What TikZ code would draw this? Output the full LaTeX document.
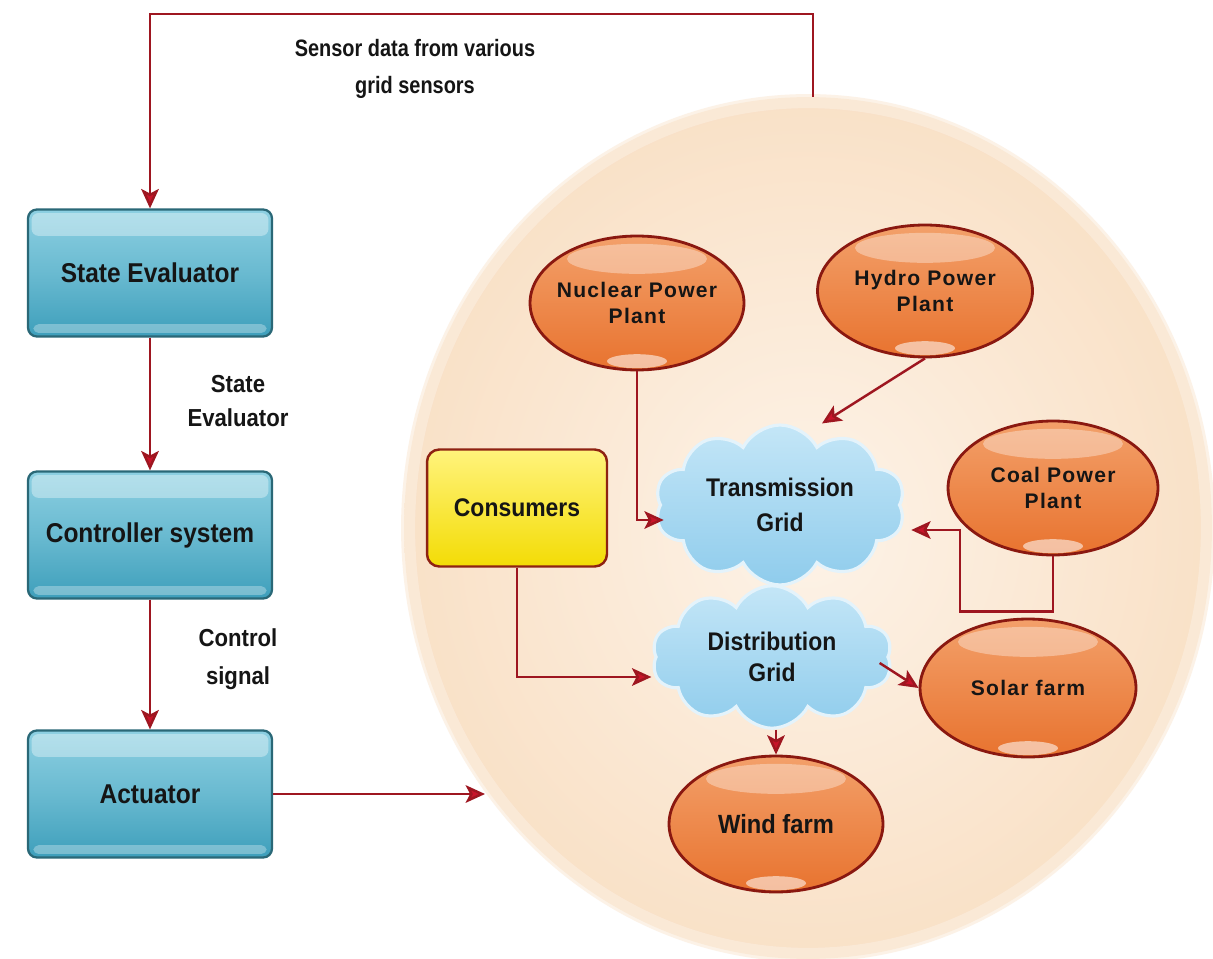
\documentclass[tikz,border=0pt]{standalone}
\usepackage{fontspec}
\setmainfont{Liberation Sans}
\newfontfamily\cond[FakeStretch=0.9]{Liberation Sans}
\newfontfamily\condb[FakeStretch=0.84]{Liberation Sans}
\newfontfamily\spaced[LetterSpace=6]{Liberation Sans}
\usetikzlibrary{shapes.geometric,shapes.symbols,arrows.meta,calc}
\definecolor{conncol}{HTML}{9E1620}
\definecolor{tipcol}{HTML}{C8142A}
\definecolor{blueTop}{HTML}{8DD0E2}
\definecolor{blueBot}{HTML}{3E9FBB}
\definecolor{blueEdge}{HTML}{2A6877}
\definecolor{orTop}{HTML}{F3A06A}
\definecolor{orBot}{HTML}{E8732F}
\definecolor{orEdge}{HTML}{8A1810}
\definecolor{cloudTop}{HTML}{C4E6F7}
\definecolor{cloudBot}{HTML}{8FCCEC}
\definecolor{cloudEdge}{HTML}{E4F3FB}
\definecolor{yelTop}{HTML}{FFF37C}
\definecolor{yelBot}{HTML}{F3DC05}
\definecolor{yelEdge}{HTML}{8E2212}
\definecolor{peachIn}{HTML}{FDF3E8}
\definecolor{peachOut}{HTML}{F9E1C7}
\definecolor{txt}{HTML}{151515}
\tikzset{
  conn/.style={draw=conncol, line width=1.4pt, -{Stealth[length=11pt,width=10pt,inset=2.5pt,fill=tipcol]}},
  bluebox/.style={rectangle, rounded corners=5pt, draw=blueEdge, line width=1.3pt,
    top color=blueTop, bottom color=blueBot, middle color=blueTop!55!blueBot,
    minimum width=4.88cm, minimum height=2.54cm, inner sep=0pt, text=txt,
    font=\cond\bfseries\fontsize{15.5}{18}\selectfont,
    path picture={
      \fill[white,opacity=0.35,rounded corners=4pt]
        ([xshift=2pt,yshift=-2pt]path picture bounding box.north west) rectangle
        ([xshift=-2pt,yshift=-15pt]path picture bounding box.north east);
      \fill[white,opacity=0.3,rounded corners=3pt]
        ([xshift=3pt,yshift=2pt]path picture bounding box.south west) rectangle
        ([xshift=-3pt,yshift=7pt]path picture bounding box.south east);
    }},
  orell/.style={ellipse, draw=orEdge, line width=1.6pt, top color=orTop, bottom color=orBot,
    inner xsep=-30pt, inner ysep=-10pt, text=txt, align=center,
    font=\spaced\bfseries\fontsize{12}{14.5}\selectfont,
    path picture={
      \fill[white,opacity=0.35] ([yshift=-13pt]path picture bounding box.north)
        ellipse [x radius=1.4cm, y radius=0.3cm];
      \fill[white,opacity=0.55] ([yshift=5pt]path picture bounding box.south)
        ellipse [x radius=0.6cm, y radius=0.14cm];
    }},
  cloudnode/.style={cloud, cloud puffs=10, cloud puff arc=125, aspect=1.7,
    draw=cloudEdge, line width=1.8pt, top color=cloudTop, bottom color=cloudBot,
    inner sep=0pt, text=txt, align=center,
    font=\cond\bfseries\fontsize{14.5}{19.5}\selectfont},
  yelbox/.style={rectangle, rounded corners=7pt, draw=yelEdge, line width=1.4pt,
    top color=yelTop, bottom color=yelBot, minimum width=3.6cm, minimum height=2.34cm,
    inner sep=0pt, text=txt, font=\cond\bfseries\fontsize{14.5}{18}\selectfont},
  lbl/.style={align=center, text=txt, inner sep=0pt, font=\cond\bfseries\fontsize{14}{19}\selectfont},
}
\begin{document}
\begin{tikzpicture}[x=0.02cm,y=-0.02cm]
\useasboundingbox[fill=white] (0,0) rectangle (1213,959);
% big peach circle
\node[ellipse, minimum width=16.16cm, minimum height=17.24cm, inner sep=0pt,
  inner color=peachIn, outer color=peachOut] (grid) at (808,528) {};
\draw[peachOut!60!white, line width=8pt, opacity=0.7] (808,528) ellipse [x radius=8.0cm, y radius=8.54cm];

% left column
\node[bluebox] (SE) at (150,273) {State Evaluator};
\node[bluebox] (CS) at (150,535) {Controller system};
\node[bluebox] (AC) at (150,794) {Actuator};

\node[lbl] (l1) at (238,401) {State\\Evaluator};
\node[lbl, font=\cond\bfseries\fontsize{14}{21.5}\selectfont] (l2) at (238,659) {Control\\signal};
\node[lbl, font=\condb\bfseries\fontsize{13.5}{21.5}\selectfont] (l3) at (415,69) {Sensor data from various\\grid sensors};

% inner nodes
\node[orell, minimum width=4.28cm, minimum height=2.68cm] (NP) at (637,303) {Nuclear Power\\Plant};
\node[orell, minimum width=4.3cm, minimum height=2.64cm] (HP) at (925,291) {Hydro Power\\Plant};
\node[orell, minimum width=4.2cm, minimum height=2.68cm] (CP) at (1053,488) {Coal Power\\Plant};
\node[orell, minimum width=4.32cm, minimum height=2.76cm] (SF) at (1028,688) {Solar farm};
\node[orell, minimum width=4.28cm, minimum height=2.72cm,
  font=\cond\bfseries\fontsize{15}{18}\selectfont] (WF) at (776,824) {Wind farm};
\node[yelbox] (CO) at (517,508) {Consumers};
\node[cloudnode, minimum width=5.0cm, minimum height=3.2cm] (TG) at (780,505) {Transmission\\Grid};
\node[cloudnode, minimum width=4.8cm, minimum height=2.85cm,
  font=\cond\bfseries\fontsize{14.5}{17.5}\selectfont] (DG) at (772,657) {Distribution\\Grid};

% connectors
\coordinate (fbstart) at (813,97);
\coordinate (fbr) at (813,14);
\coordinate (fbl) at (150,14);
\draw[conn] (fbstart) -- (fbr) -- (fbl) -- (SE.north);
\draw[conn] (SE.south) -- (CS.north);
\draw[conn] (CS.south) -- (AC.north);
\coordinate (actend) at (485,794);
\draw[conn] (AC.east) -- (actend);

\draw[conn] (NP.south) |- ($(TG.west)+(5,15)$);
\draw[conn] (HP.south) -- ($(TG.north)+(42,0)$);
\draw[conn] (CP.south) -- ++(0,55) -- ++(-93,0) |- ($(TG.east)+(10,25)$);
\draw[conn] (CO.south) |- ($(DG.west)+(-3,20)$);
\draw[conn] ($(DG.east)+(-10,6)$) -- (SF.west);
\draw[conn] (WF.north |- DG.south) -- (WF.north);
\end{tikzpicture}
\end{document}
